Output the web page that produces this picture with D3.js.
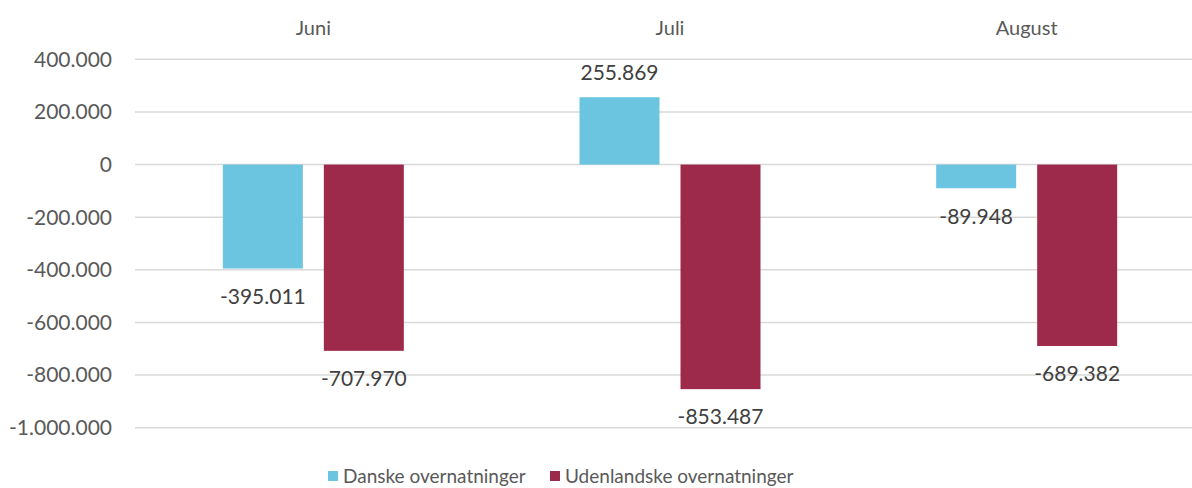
<html>
<meta charset="utf-8">
<title>Overnatninger</title>
<style>
  body { margin: 0; background: #fff; }
  text { font-family: Lato, "Open Sans", sans-serif; }
</style>
<div id="chart"></div>
<script src="https://d3js.org/d3.v7.min.js"></script>
<script>
var months = ["Juni", "Juli", "August"];
var series = ["Danske overnatninger", "Udenlandske overnatninger"];
var danske = [-395011, 255869, -89948];
var udenlandske = [-707970, -853487, -689382];
var yTicks = [400000, 200000, 0, -200000, -400000, -600000, -800000, -1000000];
var colors = ["#6bc5e0", "#9e2a4b"];

var W = 1192, H = 488;
var svg = d3.select("#chart").append("svg").attr("width", W).attr("height", H);

// the plot runs a little past the right edge, like the original
var x0 = d3.scaleBand().domain(months).range([135, 1205]);
var x1 = d3.scaleBand().domain(series).range([-90.5, 90.5]).paddingInner(0.208);
var y = d3.scaleLinear().domain([-1000000, 400000]).range([427.7, 59.3]);

var fmt = function (v) {
  var s = d3.format(",")(Math.abs(v)).replace(/,/g, ".");
  return (v < 0 ? "-" : "") + s;
};

// gridlines
svg.append("g").selectAll("line").data(yTicks).join("line")
  .attr("x1", 135).attr("x2", W)
  .attr("y1", function (d) { return y(d); }).attr("y2", function (d) { return y(d); })
  .style("stroke", "#d9d9d9").style("stroke-width", 1.5);

// y labels
svg.append("g").selectAll("text").data(yTicks).join("text")
  .attr("x", 112).attr("y", function (d) { return y(d); })
  .attr("dy", "0.35em")
  .style("text-anchor", "end").style("font-size", "21px").style("fill", "#595959")
  .text(fmt);

// month labels on top
svg.append("g").selectAll("text").data(months).join("text")
  .attr("x", function (d) { return x0(d) + x0.bandwidth() / 2; })
  .attr("y", 35)
  .style("text-anchor", "middle").style("font-size", "20px").style("fill", "#595959")
  .text(function (d) { return d; });

var rows = [];
months.forEach(function (m, i) {
  rows.push({ m: m, s: series[0], v: danske[i], c: colors[0] });
  rows.push({ m: m, s: series[1], v: udenlandske[i], c: colors[1] });
});

var cx = function (d) { return x0(d.m) + x0.bandwidth() / 2 + x1(d.s); };

svg.append("g").selectAll("rect").data(rows).join("rect")
  .attr("x", cx)
  .attr("width", x1.bandwidth())
  .attr("y", function (d) { return Math.min(y(0), y(d.v)); })
  .attr("height", function (d) { return Math.abs(y(d.v) - y(0)); })
  .style("fill", function (d) { return d.c; });

svg.append("g").selectAll("text").data(rows).join("text")
  .attr("x", function (d) { return cx(d) + x1.bandwidth() / 2; })
  .attr("y", function (d) { return d.v < 0 ? y(d.v) + 28 : y(d.v) - 25; })
  .attr("dy", "0.35em")
  .style("text-anchor", "middle").style("font-size", "21px").style("fill", "#404040")
  .text(function (d) { return fmt(d.v); });

// legend
var legX = [328, 550];
var leg = svg.append("g").selectAll("g").data(series).join("g")
  .attr("transform", function (d, i) { return "translate(" + legX[i] + ",471)"; });
leg.append("rect").attr("width", 10).attr("height", 10)
  .style("fill", function (d, i) { return colors[i]; });
leg.append("text").attr("x", 15).attr("y", 12)
  .style("font-size", "19px").style("fill", "#595959")
  .text(function (d) { return d; });
</script>
</html>
